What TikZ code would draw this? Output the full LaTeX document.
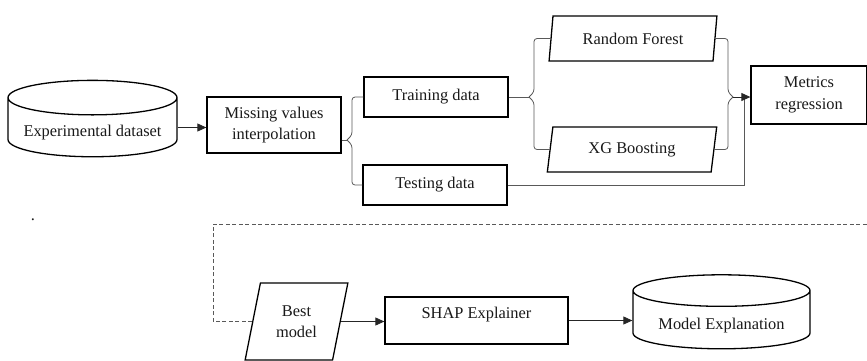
\documentclass[tikz,border=0pt]{standalone}
\usepackage{fontspec}
\setmainfont{Liberation Serif}
\usetikzlibrary{arrows,arrows.meta}
\usetikzlibrary{calc,positioning,shapes.geometric}

\begin{document}
\begin{tikzpicture}[>={Triangle[length=9pt,width=8pt]},x=1pt,y=-1pt,
  every node/.style={font=\fontsize{16.4}{21.5}\selectfont,align=center,inner sep=0pt,text=black!90},
  box/.style={draw,line width=1.3pt,rectangle},
  data/.style={draw,line width=1.3pt,trapezium,trapezium left angle=78,trapezium right angle=102,trapezium stretches=true},
  store/.style={draw,line width=1.3pt,cylinder,shape border rotate=90,aspect=0.25,text height=21pt,text depth=3pt},
  link/.style={draw=black!65,line width=0.8pt},
  arr/.style={->,draw=black!85,line width=0.8pt}]
\useasboundingbox (0,0) rectangle (867,360);

\node[store,minimum width=169pt,minimum height=63pt] (exp) at (92.5,127.5) {Experimental dataset};
\node[box,minimum width=134pt,minimum height=56pt] (miss) at (274,125) {Missing values\\interpolation};
\node[box,minimum width=144pt,minimum height=40pt] (train) at (436,97) {Training data};
\node[box,minimum width=144pt,minimum height=40pt] (test) at (435,185) {Testing data};
\node[data,minimum width=168pt,minimum height=45pt] (rf) at (633,38.5) {Random Forest};
\node[data,minimum width=170pt,minimum height=45pt] (xg) at (632,149.5) {XG Boosting};
\node[box,minimum width=116pt,minimum height=58pt] (metrics) at (809,95) {Metrics\\regression};
\node[data,trapezium left angle=75,trapezium right angle=105,minimum width=103pt,minimum height=77pt] (best) at (296.5,321.5) {Best\\model};
\node[box,minimum width=183pt,minimum height=47pt,text height=11pt,text depth=15pt] (shap) at (476.5,320.5) {SHAP Explainer};
\node[store,minimum width=177pt,minimum height=74pt] (mexp) at (721.5,320) {Model Explanation};
\node (dot) at (33,220) {.};

\coordinate (tipA) at (347,140);
\coordinate (tipB) at (529,97);
\coordinate (tipC) at (733,97);
\coordinate (joinT) at (744,97);
\coordinate (dcorner) at (213,224);
\coordinate (dashend) at (867,224);

\draw[arr] (exp.east) -- (exp.east -| miss.west);
% split into training / testing
\draw[link] (miss.east |- tipA) -- (tipA);
\draw[link,rounded corners=3pt] (train.west) -| ($(tipA)+(5,-5)$) -- (tipA);
\draw[link,rounded corners=3pt] (test.west) -| ($(tipA)+(5,5)$) -- (tipA);
% models
\draw[link] (train.east) -- (tipB);
\draw[link,rounded corners=3pt] (rf.west) -| ($(tipB)+(5,-5)$) -- (tipB);
\draw[link,rounded corners=3pt] (xg.west) -| ($(tipB)+(5,5)$) -- (tipB);
\draw[link,rounded corners=3pt] (rf.east) -| ($(tipC)+(-5,-5)$) -- (tipC);
\draw[link,rounded corners=3pt] (xg.east) -| ($(tipC)+(-5,5)$) -- (tipC);
\draw[link] (test.east) -| (joinT);
\draw[arr] (tipC) -- (tipC -| metrics.west);
% explanation
\draw[link,dash pattern=on 4pt off 2.5pt] (best.west) -| (dcorner) -- (dashend);
\draw[arr] (best.east) -- (best.east -| shap.west);
\draw[arr] (shap.east) -- (shap.east -| mexp.west);
\end{tikzpicture}
\end{document}
